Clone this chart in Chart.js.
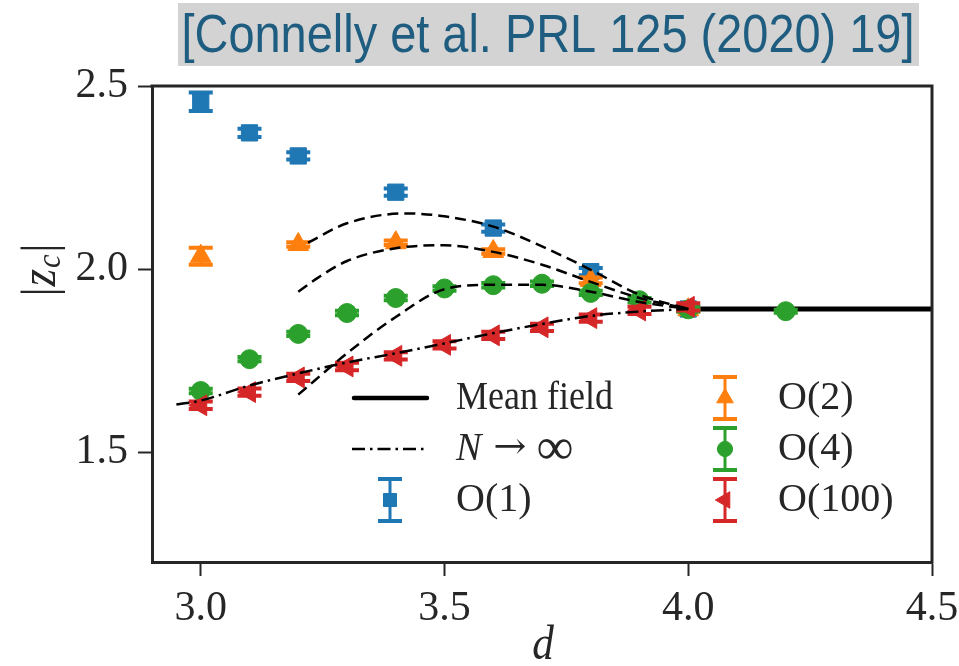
<!DOCTYPE html>
<html>
<head>
<meta charset="utf-8">
<script src="https://cdn.jsdelivr.net/npm/chart.js@4.4.1/dist/chart.umd.min.js"></script>
<style>
  html, body { margin: 0; padding: 0; background: #fff; }
  #wrap { width: 959px; height: 666px; }
</style>
</head>
<body>
<div id="wrap"><canvas id="chart" width="959" height="666"></canvas></div>
<script>
// critical |z_c| against dimension d, four O(N) models
const xTicks = [3.0, 3.5, 4.0, 4.5];
const yTicks = [1.5, 2.0, 2.5];

const dO1 = [3.0, 3.1, 3.2, 3.4, 3.6, 3.8, 4.0];
const zO1 = [2.457, 2.372, 2.309, 2.210, 2.112, 1.993, 1.891];
const errO1 = [0.025, 0.011, 0.010, 0.010, 0.010, 0.010, 0.006];

const dO2 = [3.0, 3.2, 3.4, 3.6, 3.8, 4.0];
const zO2 = [2.035, 2.067, 2.072, 2.048, 1.969, 1.889];
const errO2 = [0.023, 0.006, 0.006, 0.006, 0.008, 0.005];

const dO4 = [3.0, 3.1, 3.2, 3.3, 3.4, 3.5, 3.6, 3.7, 3.8, 3.9, 4.0, 4.2];
const zO4 = [1.667, 1.754, 1.823, 1.880, 1.921, 1.947, 1.956, 1.960, 1.935, 1.915, 1.890, 1.885];
const errO4 = [0.006, 0.006, 0.006, 0.006, 0.006, 0.006, 0.006, 0.006, 0.006, 0.006, 0.006, 0.004];

const dO100 = [3.0, 3.1, 3.2, 3.3, 3.4, 3.5, 3.6, 3.7, 3.8, 3.9, 4.0];
const zO100 = [1.628, 1.664, 1.704, 1.734, 1.763, 1.793, 1.819, 1.841, 1.866, 1.887, 1.897];
const errO100 = [0.01, 0.01, 0.01, 0.01, 0.01, 0.01, 0.01, 0.01, 0.01, 0.01, 0.01];

// dashed fits through O(1), O(2), O(4)
const dFit1 = [3.22, 3.3, 3.42, 3.5, 3.6, 3.7, 3.8, 3.9, 4.0];
const zFit1 = [2.072, 2.125, 2.152, 2.144, 2.116, 2.062, 1.998, 1.930, 1.891];
const dFit2 = [3.2, 3.24, 3.3, 3.4, 3.5, 3.6, 3.7, 3.8, 3.9, 4.0];
const zFit2 = [1.938, 1.976, 2.022, 2.057, 2.065, 2.047, 2.012, 1.965, 1.921, 1.891];
const dFit4 = [3.2, 3.3, 3.4, 3.5, 3.6, 3.7, 3.8, 3.9, 4.0];
const zFit4 = [1.657, 1.770, 1.869, 1.945, 1.957, 1.957, 1.938, 1.910, 1.891];

// large-N curve and mean-field value
const dLargeN = [2.95, 3.0, 3.1, 3.2, 3.3, 3.4, 3.5, 3.6, 3.7, 3.8, 3.9, 4.0];
const zLargeN = [1.630, 1.641, 1.682, 1.715, 1.745, 1.770, 1.797, 1.825, 1.850, 1.872, 1.884, 1.891];
const dMean = [4.0, 4.5];
const zMean = [1.891, 1.891];

const ink = '#262626';
const serif = '"Liberation Serif", "DejaVu Serif", serif';

const series = [
  { label: 'O(1)', d: dO1, z: zO1, err: errO1, color: '#1f77b4', style: 'rect', radius: 11.5, rotation: 0, order: 4 },
  { label: 'O(2)', d: dO2, z: zO2, err: errO2, color: '#ff7f0e', style: 'triangle', radius: 12, rotation: 0, order: 3 },
  { label: 'O(4)', d: dO4, z: zO4, err: errO4, color: '#2ca02c', style: 'circle', radius: 9.5, rotation: 0, order: 2 },
  { label: 'O(100)', d: dO100, z: zO100, err: errO100, color: '#d62728', style: 'triangle', radius: 12, rotation: -90, order: 1 }
];

const toPoints = (xs, ys) => xs.map((v, i) => ({ x: v, y: ys[i] }));

function curve(label, xs, ys, dash, width, order) {
  return {
    label: label,
    data: toPoints(xs, ys),
    showLine: true,
    borderColor: '#000',
    backgroundColor: '#000',
    borderWidth: width,
    borderDash: dash,
    pointRadius: 0,
    cubicInterpolationMode: 'monotone',
    order: order
  };
}

const datasets = [
  curve('fit O(1)', dFit1, zFit1, [11, 6], 2.5, 0),
  curve('fit O(2)', dFit2, zFit2, [11, 6], 2.5, 0),
  curve('fit O(4)', dFit4, zFit4, [11, 6], 2.5, 0),
  curve('N to infinity', dLargeN, zLargeN, [13, 5, 2.5, 5], 2.5, 0)
];
series.forEach(s => {
  datasets.push({
    label: s.label,
    data: toPoints(s.d, s.z),
    showLine: false,
    pointStyle: s.style,
    pointRotation: s.rotation,
    pointRadius: s.radius,
    pointBackgroundColor: s.color,
    pointBorderColor: s.color,
    pointBorderWidth: 1,
    order: s.order,
    errSeries: s
  });
});
datasets.push(curve('Mean field', dMean, zMean, [], 5, 5));

function drawText(ctx, text, x, y, font, align, sx) {
  ctx.save();
  ctx.font = font;
  ctx.textBaseline = 'middle';
  ctx.textAlign = 'left';
  const w = ctx.measureText(text).width * sx;
  let left = x;
  if (align === 'center') left = x - w / 2;
  if (align === 'right') left = x - w;
  ctx.translate(left, y);
  ctx.scale(sx, 1);
  ctx.fillText(text, 0, 0);
  ctx.restore();
  return w;
}

function drawErrorGlyph(ctx, s, x, y, half, cap) {
  ctx.save();
  ctx.strokeStyle = s.color;
  ctx.lineWidth = 3;
  ctx.beginPath();
  ctx.moveTo(x, y - half);
  ctx.lineTo(x, y + half);
  ctx.stroke();
  ctx.lineWidth = 4;
  ctx.beginPath();
  ctx.moveTo(x - cap / 2, y - half);
  ctx.lineTo(x + cap / 2, y - half);
  ctx.moveTo(x - cap / 2, y + half);
  ctx.lineTo(x + cap / 2, y + half);
  ctx.stroke();
  ctx.restore();
}

const errorBars = {
  id: 'errorBars',
  beforeDatasetDraw(chart, args) {
    const s = chart.data.datasets[args.index].errSeries;
    if (!s) return;
    const { ctx, scales: { x, y } } = chart;
    ctx.save();
    ctx.strokeStyle = s.color;
    s.d.forEach((d, i) => {
      const px = x.getPixelForValue(d);
      const top = y.getPixelForValue(s.z[i] + s.err[i]);
      const bot = y.getPixelForValue(s.z[i] - s.err[i]);
      ctx.lineWidth = 3;
      ctx.beginPath();
      ctx.moveTo(px, top);
      ctx.lineTo(px, bot);
      ctx.stroke();
      ctx.lineWidth = 4;
      ctx.beginPath();
      ctx.moveTo(px - 12, top);
      ctx.lineTo(px + 12, top);
      ctx.moveTo(px - 12, bot);
      ctx.lineTo(px + 12, bot);
      ctx.stroke();
    });
    ctx.restore();
  }
};

const decorations = {
  id: 'decorations',
  afterDraw(chart) {
    const { ctx, chartArea: a } = chart;

    // top and right spines
    ctx.save();
    ctx.strokeStyle = ink;
    ctx.lineWidth = 3;
    ctx.beginPath();
    ctx.moveTo(a.left - 1.5, a.top);
    ctx.lineTo(a.right, a.top);
    ctx.lineTo(a.right, a.bottom + 1.5);
    ctx.stroke();
    ctx.restore();

    // reference banner
    ctx.save();
    ctx.fillStyle = '#d3d3d3';
    ctx.fillRect(178, 3, 741, 63);
    ctx.fillStyle = '#1f5d80';
    ctx.font = '54px "Liberation Sans", Arial, sans-serif';
    const title = '[Connelly et al. PRL 125 (2020) 19]';
    const tw = ctx.measureText(title).width;
    drawText(ctx, title, 548, 37, ctx.font, 'center', 733 / tw);
    ctx.restore();

    // axis titles
    ctx.save();
    ctx.fillStyle = ink;
    drawText(ctx, 'd', 543, 646, 'italic 48px ' + serif, 'center', 0.9);
    ctx.translate(42, 270);
    ctx.rotate(-Math.PI / 2);
    ctx.font = '48px ' + serif;
    const bar = ctx.measureText('|').width * 0.9;
    ctx.font = 'italic 50px ' + serif;
    const zw = ctx.measureText('z').width * 0.9;
    ctx.font = 'italic 34px ' + serif;
    const cw = ctx.measureText('c').width * 0.9;
    let cx = -(bar * 2 + zw + cw + 4) / 2;
    drawText(ctx, '|', cx, 0, '48px ' + serif, 'left', 0.9);
    cx += bar + 1;
    drawText(ctx, 'z', cx, 0, 'italic 50px ' + serif, 'left', 0.9);
    cx += zw + 1;
    drawText(ctx, 'c', cx, 9, 'italic 34px ' + serif, 'left', 0.9);
    cx += cw + 2;
    drawText(ctx, '|', cx, 0, '48px ' + serif, 'left', 0.9);
    ctx.restore();

    // legend
    const rows = [398, 449, 500];
    const font = '40px ' + serif;
    ctx.save();
    ctx.fillStyle = ink;
    ctx.strokeStyle = '#000';
    ctx.lineWidth = 4.5;
    ctx.lineCap = 'round';
    ctx.beginPath();
    ctx.moveTo(354, rows[0]);
    ctx.lineTo(427, rows[0]);
    ctx.stroke();
    ctx.lineCap = 'butt';
    ctx.lineWidth = 2.5;
    ctx.setLineDash([13, 5, 2.5, 5]);
    ctx.beginPath();
    ctx.moveTo(352, rows[1]);
    ctx.lineTo(428, rows[1]);
    ctx.stroke();
    ctx.setLineDash([]);
    drawText(ctx, 'Mean field', 456, rows[0], font, 'left', 0.9);
    let nx = 456;
    nx += drawText(ctx, 'N', nx, rows[1], 'italic 40px ' + serif, 'left', 0.95) + 12;
    nx += drawText(ctx, '\u2192', nx, rows[1], '36px "DejaVu Serif", serif', 'left', 1.1) + 10;
    drawText(ctx, '\u221e', nx, rows[1] + 1, '52px ' + serif, 'left', 1.0);

    const slots = [
      { s: series[0], x: 390, y: rows[2], tx: 456 },
      { s: series[1], x: 725, y: rows[0], tx: 778 },
      { s: series[2], x: 725, y: rows[1], tx: 778 },
      { s: series[3], x: 725, y: rows[2], tx: 778 }
    ];
    slots.forEach(k => {
      drawErrorGlyph(ctx, k.s, k.x, k.y, 21, 24);
      ctx.fillStyle = k.s.color;
      ctx.strokeStyle = k.s.color;
      ctx.lineWidth = 1;
      Chart.helpers.drawPoint(ctx, { pointStyle: k.s.style, rotation: k.s.rotation, radius: k.s.radius * 0.8, borderWidth: 1 }, k.x, k.y);
      ctx.fillStyle = ink;
      drawText(ctx, k.s.label, k.tx, k.y, font, 'left', 1.0);
    });
    ctx.restore();
  }
};

const tickFont = { family: serif, size: 42 };

new Chart(document.getElementById('chart'), {
  type: 'scatter',
  data: { datasets: datasets },
  options: {
    responsive: false,
    animation: false,
    events: [],
    layout: { padding: { top: 86, right: 27, left: 0, bottom: 0 } },
    plugins: { legend: { display: false }, tooltip: { enabled: false } },
    scales: {
      x: {
        type: 'linear',
        min: 2.9,
        max: 4.5,
        afterBuildTicks: s => { s.ticks = xTicks.map(v => ({ value: v })); },
        afterFit: s => { s.height = 104; s.paddingLeft = 0; s.paddingRight = 0; },
        ticks: { font: tickFont, color: ink, padding: 8, maxRotation: 0, autoSkip: false, callback: v => v.toFixed(1) },
        grid: { drawOnChartArea: false, drawTicks: true, tickLength: 14, tickWidth: 2, tickColor: ink },
        border: { display: true, width: 3, color: ink }
      },
      y: {
        type: 'linear',
        min: 1.2,
        max: 2.5,
        afterBuildTicks: s => { s.ticks = yTicks.map(v => ({ value: v })); },
        afterFit: s => { s.width = 152; s.paddingTop = 0; s.paddingBottom = 0; },
        ticks: { font: tickFont, color: ink, padding: 10, autoSkip: false, callback: v => v.toFixed(1) },
        grid: { drawOnChartArea: false, drawTicks: true, tickLength: 14, tickWidth: 2, tickColor: ink },
        border: { display: true, width: 3, color: ink }
      }
    }
  },
  plugins: [errorBars, decorations]
});
</script>
</body>
</html>
